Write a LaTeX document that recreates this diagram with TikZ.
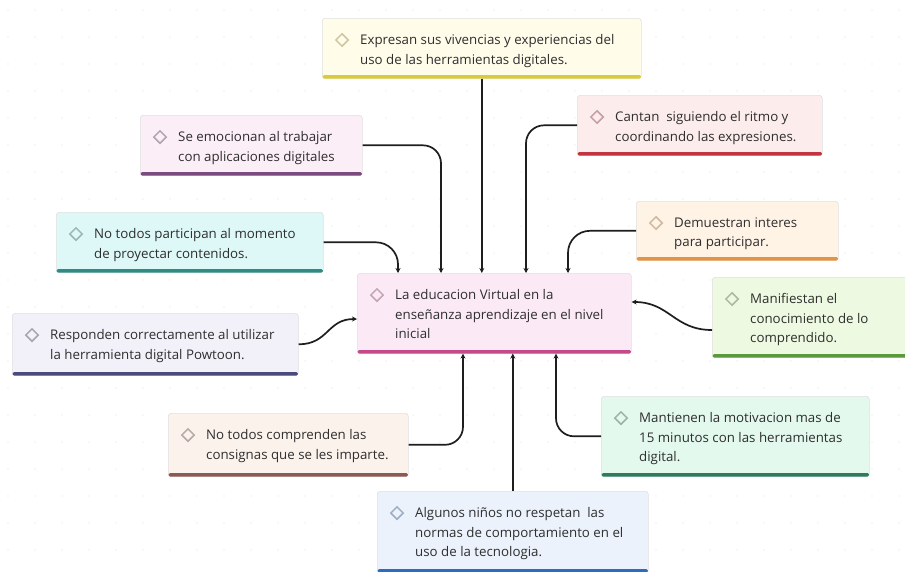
\documentclass[tikz,border=0pt]{standalone}
\usepackage{fontspec}
\setmainfont{Open Sans}
\usetikzlibrary{arrows.meta,calc,shapes.geometric}
\definecolor{txt}{HTML}{2E2E2E}
\definecolor{ln}{HTML}{1E1E1E}
\definecolor{fTop}{HTML}{FFFCEA}\definecolor{bTop}{HTML}{D9CB3C}
\definecolor{fCan}{HTML}{FDECEC}\definecolor{bCan}{HTML}{C23540}
\definecolor{fEmo}{HTML}{FBEEF7}\definecolor{bEmo}{HTML}{7B4A7E}
\definecolor{fDem}{HTML}{FFF3E6}\definecolor{bDem}{HTML}{E39343}
\definecolor{fPar}{HTML}{DEF8F8}\definecolor{bPar}{HTML}{2F8C82}
\definecolor{fCen}{HTML}{FBEAF6}\definecolor{bCen}{HTML}{C44A8A}
\definecolor{fMan}{HTML}{EDFAE1}\definecolor{bMan}{HTML}{5B9A3C}
\definecolor{fRes}{HTML}{F2F1FA}\definecolor{bRes}{HTML}{4B4A7E}
\definecolor{fCom}{HTML}{FCF2EC}\definecolor{bCom}{HTML}{8C5A52}
\definecolor{fMnt}{HTML}{E3F9EE}\definecolor{bMnt}{HTML}{2B7D5C}
\definecolor{fAlg}{HTML}{EBF2FC}\definecolor{bAlg}{HTML}{2E6CC2}
\tikzset{
  mmbox/.style={draw=black!12, line width=0.6pt, rounded corners=3pt, inner sep=0pt},
  mmtext/.style={inner sep=0pt, align=left, text=txt, font=\fontsize{13.3}{19.5}\selectfont},
  diam/.style={diamond, draw, line width=1.5pt, minimum width=13pt, minimum height=13pt, inner sep=0pt},
  conn/.style={draw=ln, line width=1.7pt, -{Stealth[length=5pt,width=5pt]}},
}
\newcommand\mmnode[8]{%
  \node[mmbox, fill=#6, minimum width={#4pt-#2pt}, minimum height={#5pt-#3pt}, anchor=north west] (#1) at (#2,#3) {};
  \fill[#7, rounded corners=1.5pt] ([xshift=0.5pt]#1.south west) rectangle ([xshift=-0.5pt,yshift=3.5pt]#1.south east);
  \node[diam, draw={#7!45!gray!60}] (#1d) at ([xshift=20pt,yshift=-22pt]#1.north west) {};
  \node[mmtext, anchor=north west] (#1t) at ([xshift=38pt,yshift=-16.5pt]#1.north west) {\rule{0pt}{9pt}#8};
}
\begin{document}
\begin{tikzpicture}[x=1pt,y=-1pt]
\useasboundingbox (0,0) rectangle (905,571);
\fill[white] (0,0) rectangle (905,571);
\foreach \x in {8,35,...,905} \foreach \y in {10,37,...,571} \fill[black!11] (\x,\y) circle (0.7);
\mmnode{top}{322}{18}{641}{78}{fTop}{bTop}{Expresan sus vivencias y experiencias del\\uso de las herramientas digitales.}
\mmnode{cantan}{577}{95}{822}{155}{fCan}{bCan}{Cantan \ siguiendo el ritmo y\\coordinando las expresiones.}
\mmnode{emoc}{140}{115}{362}{175}{fEmo}{bEmo}{Se emocionan al trabajar\\con aplicaciones digitales}
\mmnode{dem}{636}{201}{838}{260}{fDem}{bDem}{Demuestran interes\\para participar.}
\mmnode{part}{56}{212}{323}{272}{fPar}{bPar}{No todos participan al momento\\de proyectar contenidos.}
\mmnode{center}{357}{273}{631}{353}{fCen}{bCen}{La educacion Virtual en la\\enseñanza aprendizaje en el nivel\\inicial}
\mmnode{manif}{712}{277}{912}{357}{fMan}{bMan}{Manifiestan el\\conocimiento de lo\\comprendido.}
\mmnode{resp}{12}{313}{298}{375}{fRes}{bRes}{Responden correctamente al utilizar\\la herramienta digital Powtoon.}
\mmnode{comp}{168}{413}{408}{476}{fCom}{bCom}{No todos comprenden las\\consignas que se les imparte.}
\mmnode{mant}{601}{396}{869}{476}{fMnt}{bMnt}{Mantienen la motivacion mas de\\15 minutos con las herramientas\\digital.}
\mmnode{alg}{377}{491}{648}{572}{fAlg}{bAlg}{Algunos niños no respetan \ las\\normas de comportamiento en el\\uso de la tecnologia.}
% connectors
\draw[conn] (top.south) -- (top.south |- center.north);
\draw[conn, rounded corners=18pt] (emoc.east) -| ([xshift=84pt]center.north west);
\draw[conn, rounded corners=22pt] (part.east) -| ([xshift=41pt]center.north west);
\draw[conn, rounded corners=18pt] (cantan.west) -| ([xshift=169pt]center.north west);
\draw[conn, rounded corners=22pt] (dem.west) -| ([xshift=211pt]center.north west);
\draw[conn] (resp.east) .. controls +(30,0) and +(-30,0) .. ([yshift=-46pt]center.north west);
\draw[conn] ([yshift=-53pt]manif.north west) .. controls +(-38,0) and +(38,0) .. ([yshift=-29pt]center.north east);
\draw[conn, rounded corners=18pt] (comp.east) -| ([xshift=106pt]center.south west);
\draw[conn] (alg.north) -- (alg.north |- center.south);
\draw[conn, rounded corners=18pt] (mant.west) -| ([xshift=199pt]center.south west);
\end{tikzpicture}
\end{document}
